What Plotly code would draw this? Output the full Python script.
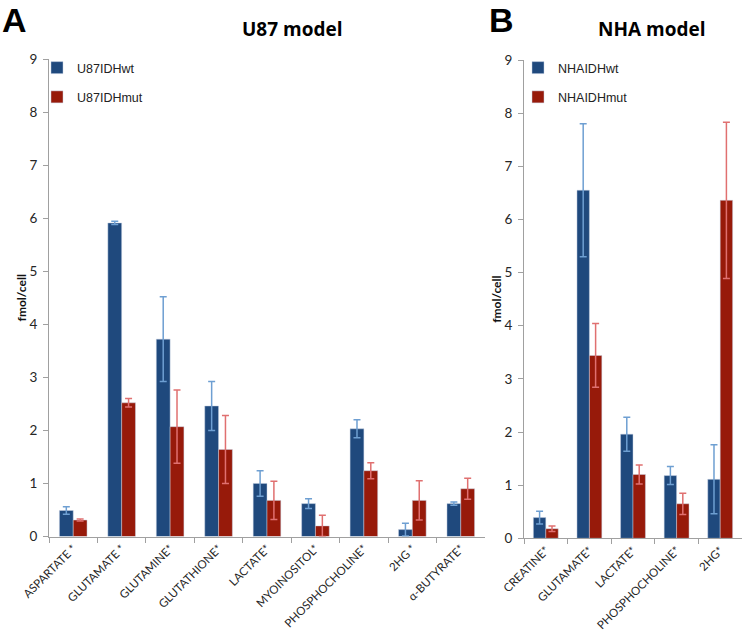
import plotly.graph_objects as go

# ---- Panel A: U87 model ----
u87_categories = ["ASPARTATE *", "GLUTAMATE *", "GLUTAMINE*", "GLUTATHIONE*", "LACTATE*",
                  "MYOINOSITOL*", "PHOSPHOCHOLINE*", "2HG *", "α-BUTYRATE*"]
u87_wt = [0.49, 5.91, 3.72, 2.46, 1.00, 0.62, 2.03, 0.13, 0.62]
u87_wt_err = [0.07, 0.03, 0.80, 0.46, 0.24, 0.09, 0.17, 0.12, 0.03]
u87_mut = [0.31, 2.52, 2.07, 1.64, 0.68, 0.20, 1.24, 0.68, 0.90]
u87_mut_err = [0.02, 0.08, 0.69, 0.64, 0.36, 0.20, 0.15, 0.37, 0.20]

# ---- Panel B: NHA model ----
nha_categories = ["CREATINE*", "GLUTAMATE*", "LACTATE*", "PHOSPHOCHOLINE*", "2HG*"]
nha_wt = [0.39, 6.55, 1.96, 1.18, 1.11]
nha_wt_err = [0.12, 1.25, 0.32, 0.17, 0.65]
nha_mut = [0.18, 3.44, 1.20, 0.65, 6.36]
nha_mut_err = [0.05, 0.60, 0.18, 0.20, 1.47]

y_ticks = [0, 1, 2, 3, 4, 5, 6, 7, 8, 9]

BLUE = "#1F497D"
RED = "#971A0A"
BLUE_ERR = "#6E9FD2"
RED_ERR = "#E07070"

W, H = 745, 630

def px_x(p):
    return p / W

def px_y(p):
    return 1 - p / H

fig = go.Figure()

def add_bar(x, y, err, name, color, ecolor, xa, ya, legend, group):
    fig.add_trace(go.Bar(
        x=x, y=y, name=name, xaxis=xa, yaxis=ya, legend=legend, legendgroup=group,
        marker=dict(color=color, line=dict(color="rgba(200,210,230,0.6)", width=0.8)),
        error_y=dict(type="data", array=err, visible=True, color=ecolor,
                     thickness=1.5, width=3.5),
    ))

add_bar(u87_categories, u87_wt, u87_wt_err, "U87IDHwt", BLUE, BLUE_ERR, "x", "y", "legend", "a1")
add_bar(u87_categories, u87_mut, u87_mut_err, "U87IDHmut", RED, RED_ERR, "x", "y", "legend", "a2")
add_bar(nha_categories, nha_wt, nha_wt_err, "NHAIDHwt", BLUE, BLUE_ERR, "x2", "y2", "legend2", "b1")
add_bar(nha_categories, nha_mut, nha_mut_err, "NHAIDHmut", RED, RED_ERR, "x2", "y2", "legend2", "b2")

AX = "#A0A0A0"
tickfont = dict(family="Lato, 'Open Sans', sans-serif", size=11.5, color="#262626")

xcommon = dict(showline=True, linecolor=AX, linewidth=1, ticks="outside", ticklen=5,
               tickcolor=AX, tickson="boundaries", tickangle=-45, tickfont=tickfont,
               showgrid=False, zeroline=False, fixedrange=True, automargin=False)
ycommon = dict(range=[0, 9], tickvals=y_ticks, showline=True, linecolor=AX, linewidth=1,
               ticks="outside", ticklen=5, tickcolor=AX, showgrid=False, zeroline=False,
               automargin=False, fixedrange=True,
               tickfont=dict(family="Lato, 'Open Sans', sans-serif", size=13.5, color="#262626"),
               ticklabelstandoff=3,
               title=dict(text="<b>fmol/cell</b>", standoff=0,
                          font=dict(family="Lato, 'Open Sans', sans-serif", size=12, color="#111")))

legend_font = dict(family="'Liberation Sans', Arial, sans-serif", size=12.5, color="#222")

fig.update_layout(
    template="none",
    width=W, height=H,
    margin=dict(l=0, r=0, t=0, b=0, autoexpand=False),
    paper_bgcolor="white", plot_bgcolor="white",
    barmode="group", bargap=0.43, bargroupgap=0,
    xaxis=dict(domain=[px_x(49), px_x(485)], anchor="y", **xcommon),
    yaxis=dict(domain=[px_y(536.5), px_y(59)], anchor="x", **ycommon),
    xaxis2=dict(domain=[px_x(524), px_x(742)], anchor="y2", **xcommon),
    yaxis2=dict(domain=[px_y(538.3), px_y(60)], anchor="x2", **ycommon),
    legend=dict(x=px_x(49), y=px_y(53), xanchor="left", yanchor="top",
                traceorder="grouped", tracegroupgap=10, indentation=-12,
                font=legend_font, bgcolor="rgba(0,0,0,0)"),
    legend2=dict(x=px_x(530), y=px_y(53), xanchor="left", yanchor="top",
                 traceorder="grouped", tracegroupgap=10, indentation=-12,
                 font=legend_font, bgcolor="rgba(0,0,0,0)"),
    annotations=[
        dict(text="<b>A</b>", x=px_x(15), y=px_y(0), xref="paper", yref="paper",
             xanchor="center", yanchor="top", borderpad=0, showarrow=False,
             font=dict(family="'Liberation Sans', Arial, sans-serif", size=34, color="black")),
        dict(text="<b>B</b>", x=px_x(501), y=px_y(0), xref="paper", yref="paper",
             xanchor="center", yanchor="top", borderpad=0, showarrow=False,
             font=dict(family="'Liberation Sans', Arial, sans-serif", size=34, color="black")),
        dict(text="<b>U87 model</b>", x=px_x(292), y=px_y(29), xref="paper", yref="paper",
             xanchor="center", yanchor="middle", showarrow=False,
             font=dict(family="'Open Sans', sans-serif", size=19, color="black")),
        dict(text="<b>NHA model</b>", x=px_x(652), y=px_y(29), xref="paper", yref="paper",
             xanchor="center", yanchor="middle", showarrow=False,
             font=dict(family="'Open Sans', sans-serif", size=19, color="black")),
    ],
)

# remove the browser's default 8px page margin so the figure fills the window exactly
fig.write_html("out.html", config={"displayModeBar": False},
               post_script="document.body.style.margin='0px';")
